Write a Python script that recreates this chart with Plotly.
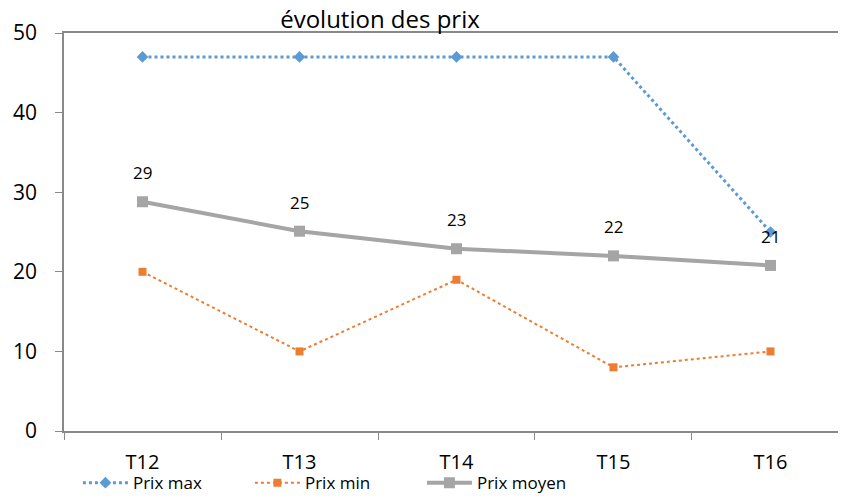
import plotly.graph_objects as go

periodes = ["T12", "T13", "T14", "T15", "T16"]
prix_max = [47, 47, 47, 47, 25]
prix_min = [20, 10, 19, 8, 10]
prix_moyen = [28.8, 25.1, 22.9, 22.0, 20.8]
etiquettes_moyen = ["29", "25", "23", "22", "21"]

FONT = "Open Sans"
# la page ajoute 8 px de marge : on réduit la figure pour éviter les barres de défilement
W, H = 830, 487

fig = go.Figure()
fig.add_trace(go.Scatter(
    x=periodes, y=prix_max, mode="lines+markers", name="Prix max",
    line=dict(color="#5b9bd5", width=3, dash="dot"),
    marker=dict(symbol="diamond", size=9, color="#5b9bd5"),
))
fig.add_trace(go.Scatter(
    x=periodes, y=prix_min, mode="lines+markers", name="Prix min",
    line=dict(color="#ed7d31", width=2, dash="dot"),
    marker=dict(symbol="square", size=8, color="#ed7d31"),
))
fig.add_trace(go.Scatter(
    x=periodes, y=prix_moyen, mode="lines+markers", name="Prix moyen",
    line=dict(color="#a5a5a5", width=4),
    marker=dict(symbol="square", size=11, color="#a5a5a5"),
))

# étiquettes de données au-dessus de la série moyenne
for p, v, t in zip(periodes, prix_moyen, etiquettes_moyen):
    fig.add_annotation(x=p, y=v, text=t, showarrow=False, yshift=29,
                       font=dict(family=FONT, size=17, color="black"))

fig.update_layout(
    width=W, height=H,
    margin=dict(l=56, r=0, t=25, b=64, autoexpand=False),
    paper_bgcolor="white", plot_bgcolor="white",
    font=dict(family=FONT, size=20, color="black"),
    title=dict(text="évolution des prix", x=372 / W, xanchor="center",
               y=1 - 12 / H, yanchor="middle", automargin=False,
               font=dict(family=FONT, size=24, color="black")),
    showlegend=True,
    legend=dict(orientation="h", x=0.018, xanchor="left", y=-0.131, yanchor="middle",
                font=dict(family=FONT, size=17), itemwidth=45,
                entrywidth=112, entrywidthmode="pixels",
                bgcolor="rgba(0,0,0,0)"),
)
fig.update_xaxes(
    range=[-0.5, 4.43], showgrid=False, zeroline=False, automargin=False,
    showline=True, mirror=True, linecolor="#898989", linewidth=1.5,
    ticks="outside", tickson="boundaries", ticklen=7, tickcolor="#898989",
    ticklabelstandoff=12,
)
fig.update_yaxes(
    range=[0, 50], dtick=10, showgrid=False, zeroline=False, automargin=False,
    showline=True, linecolor="#898989", linewidth=1.5,
    ticks="outside", ticklen=7, tickcolor="#898989", ticklabelstandoff=14,
    tickfont=dict(size=21),
)

fig.write_html("out.html")
